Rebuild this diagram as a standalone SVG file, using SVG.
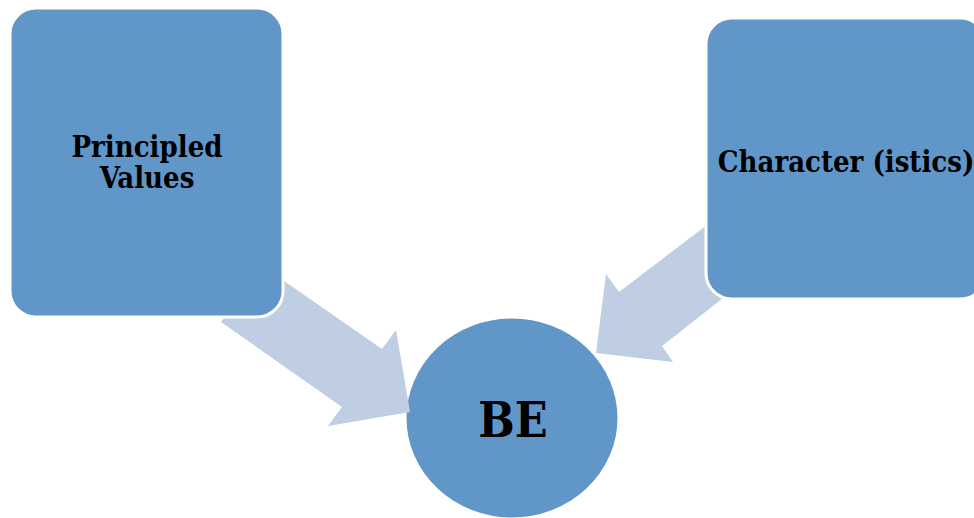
<svg xmlns="http://www.w3.org/2000/svg" width="974" height="518" viewBox="0 0 974 518">
<style>
.node{fill:#6096c8;stroke:#ffffff;stroke-width:3}
.arrow{fill:#bfcee3}
.lbl{font-family:"DejaVu Serif Condensed","DejaVu Serif",serif;font-stretch:condensed;font-weight:bold;fill:#000;text-anchor:middle}
</style>
<rect width="974" height="518" fill="#ffffff"/>
<g id="be">
<ellipse class="node" cx="512" cy="418" rx="107" ry="101" stroke="none"/>
<text class="lbl" x="513" y="437" font-size="48">BE</text>
</g>
<g id="connectors">
<polygon class="arrow" points="261,265 382,349 396,330 410,412 328,426 342,407 221,322"/>
<polygon class="arrow" points="724,212 619,292 606,274 596,353 673,362 662,346 741,284"/>
</g>
<g id="principled-values">
<rect class="node" x="10" y="8" width="273" height="309" rx="26"/>
<text class="lbl" x="147" y="157" font-size="29">Principled</text>
<text class="lbl" x="147" y="188" font-size="29">Values</text>
</g>
<g id="characteristics">
<rect class="node" x="706" y="18" width="280" height="281" rx="26"/>
<text class="lbl" x="846" y="172" font-size="29">Character (istics)</text>
</g>
</svg>
